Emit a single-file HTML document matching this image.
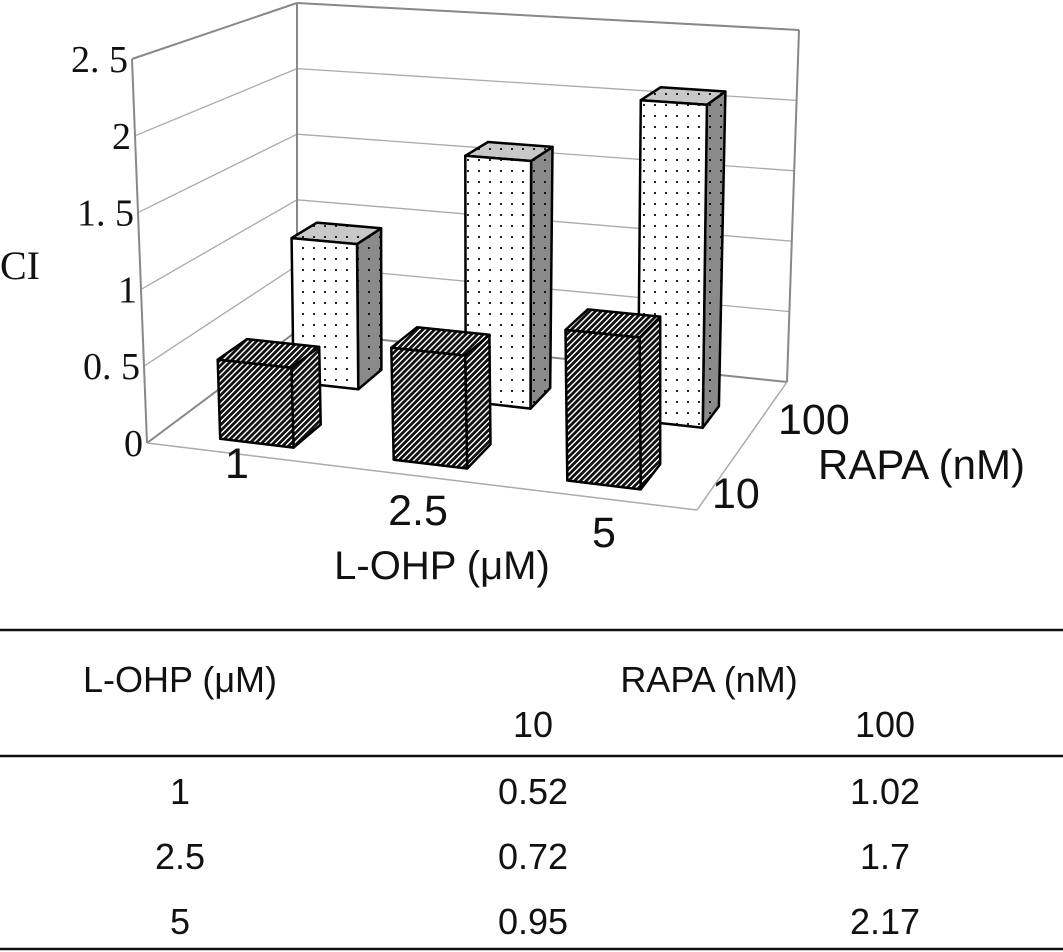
<!DOCTYPE html>
<html><head><meta charset="utf-8"><style>
html,body{margin:0;padding:0;background:#fff;}
body{width:1063px;height:952px;overflow:hidden;position:relative;font-family:"Liberation Sans",sans-serif;}
svg{position:absolute;left:0;top:0;}
</style></head><body>
<svg id="chart" width="1063" height="952" viewBox="0 0 1063 952">
<defs>
<pattern id="hatch" patternUnits="userSpaceOnUse" width="4.2" height="4.2" patternTransform="rotate(45)">
<rect width="4.2" height="4.2" fill="#111"/><rect x="0" y="0" width="1.4" height="4.2" fill="#fff"/>
</pattern>
<pattern id="dotsW" patternUnits="userSpaceOnUse" width="11" height="11">
<rect width="11" height="11" fill="#fff"/><rect x="5" y="5" width="2" height="2" fill="#222"/>
</pattern>
<pattern id="dotsG" patternUnits="userSpaceOnUse" width="11" height="11">
<rect width="11" height="11" fill="#8a8a8a"/><rect x="5" y="5" width="2" height="2" fill="#111"/>
</pattern>
<pattern id="dotsL" patternUnits="userSpaceOnUse" width="11" height="11">
<rect width="11" height="11" fill="#c8c8c8"/><rect x="5" y="5" width="2" height="2" fill="#222"/>
</pattern>
</defs>
<g id="walls"></g>
<g id="bars"></g>
<g id="labels" font-family="Liberation Sans, sans-serif" fill="#111">
<text x="0" y="279" font-family="Liberation Serif, serif" font-size="40">CI</text>
<text x="237" y="478" font-size="43" text-anchor="middle">1</text>
<text x="418" y="525" font-size="43" text-anchor="middle">2.5</text>
<text x="604" y="547" font-size="43" text-anchor="middle">5</text>
<text x="442" y="579" font-size="40" text-anchor="middle">L-OHP (μM)</text>
<text x="778" y="434" font-size="43">100</text>
<text x="712" y="508" font-size="43">10</text>
<text x="818" y="479" font-size="42">RAPA (nM)</text>
</g>
<g id="table" font-family="Liberation Sans, sans-serif" font-size="36" fill="#111" text-anchor="middle">
<line x1="0" y1="630" x2="1063" y2="630" stroke="#111" stroke-width="2.5"/>
<line x1="0" y1="756" x2="1063" y2="756" stroke="#111" stroke-width="2.5"/>
<line x1="0" y1="949" x2="1063" y2="949" stroke="#111" stroke-width="2.5"/>
<text x="180" y="692">L-OHP (μM)</text>
<text x="709" y="692">RAPA (nM)</text>
<text x="533" y="737">10</text>
<text x="885" y="737">100</text>
<text x="180" y="804">1</text>
<text x="533" y="804">0.52</text>
<text x="885" y="804">1.02</text>
<text x="180" y="869">2.5</text>
<text x="533" y="869">0.72</text>
<text x="885" y="869">1.7</text>
<text x="180" y="934">5</text>
<text x="533" y="934">0.95</text>
<text x="885" y="934">2.17</text>
</g>
</svg>
<script>
const categories = ["1", "2.5", "5"];
const seriesNames = ["10", "100"];
const rapa10 = [0.52, 0.72, 0.95];
const rapa100 = [1.02, 1.7, 2.17];
const yTicks = [0, 0.5, 1, 1.5, 2, 2.5];
const yTickLabels = ["0", "0. 5", "1", "1. 5", "2", "2. 5"];

const NS = "http://www.w3.org/2000/svg";
const VMAX = 2.5;
const FL=[147,443], FR=[697,510], BL=[297,331], BR=[787,382];
const HFL=[-15,-384], HFR=[-3,-408], HBL=[0,-328], HBR=[12,-352];
function bil(a,b,c,d,u,t){
  const f=[a[0]+(b[0]-a[0])*u, a[1]+(b[1]-a[1])*u];
  const k=[c[0]+(d[0]-c[0])*u, c[1]+(d[1]-c[1])*u];
  return [f[0]+(k[0]-f[0])*t, f[1]+(k[1]-f[1])*t];
}
function P(u,t,v){
  const f=bil(FL,FR,BL,BR,u,t), h=bil(HFL,HFR,HBL,HBR,u,t);
  const s=v/VMAX; return [f[0]+h[0]*s, f[1]+h[1]*s];
}
function pts(a){return a.map(p=>p[0].toFixed(1)+","+p[1].toFixed(1)).join(" ");}
function line(g,a,b,stroke,w,name){
  const l=document.createElementNS(NS,"line");
  l.setAttribute("x1",a[0]);l.setAttribute("y1",a[1]);l.setAttribute("x2",b[0]);l.setAttribute("y2",b[1]);
  l.setAttribute("stroke",stroke);l.setAttribute("stroke-width",w);
  
  
  g.appendChild(l);
}
const walls=document.getElementById("walls");
yTicks.forEach((v,i)=>{
  if(v>0 && v<VMAX){
    line(walls,P(0,0,v),P(0,1,v),"#aaa",1.3,"gridline-left-wall");
    line(walls,P(0,1,v),P(1,1,v),"#aaa",1.3,"gridline-back-wall");
  }
  const p=P(0,0,v);
  const t=document.createElementNS(NS,"text");
  t.setAttribute("x",p[0]-4);t.setAttribute("y",p[1]+13);
  t.setAttribute("text-anchor","end");t.setAttribute("font-family","Liberation Serif, serif");
  t.setAttribute("font-size","38");t.setAttribute("fill","#111");
  t.textContent=yTickLabels[i];
  
  
  walls.appendChild(t);
});
line(walls,P(0,0,0),P(0,0,VMAX),"#888",2,"left-wall-front-edge");
line(walls,P(0,0,VMAX),P(0,1,VMAX),"#888",2,"left-wall-top-edge");
line(walls,P(0,1,0),P(0,1,VMAX),"#888",2,"back-wall-left-edge");
line(walls,P(0,1,VMAX),P(1,1,VMAX),"#888",2,"back-wall-top-edge");
line(walls,P(1,1,0),P(1,1,VMAX),"#888",2,"back-wall-right-edge");
line(walls,P(0,1,0),P(1,1,0),"#888",2,"back-wall-bottom-edge");
line(walls,P(0,0,0),P(0,1,0),"#888",2,"left-wall-bottom-edge");
line(walls,P(0,0,0),P(1,0,0),"#aaa",1.5,"floor-front-edge");
line(walls,P(1,0,0),P(1,1,0),"#aaa",1.5,"floor-right-edge");

const bars=document.getElementById("bars");
function poly(g,p,fill,name){
  const e=document.createElementNS(NS,"polygon");
  e.setAttribute("points",pts(p));e.setAttribute("fill",fill);
  e.setAttribute("stroke","#000");e.setAttribute("stroke-width","2.5");e.setAttribute("stroke-linejoin","round");
  
  
  g.appendChild(e);
}
function box(u0,u1,t0,t1,v,front,side,top,name){
  const g=document.createElementNS(NS,"g");
  
  
  poly(g,[P(u1,t0,0),P(u1,t1,0),P(u1,t1,v),P(u1,t0,v)],side,"bar-side");
  poly(g,[P(u0,t0,v),P(u1,t0,v),P(u1,t1,v),P(u0,t1,v)],top,"bar-top");
  poly(g,[P(u0,t0,0),P(u1,t0,0),P(u1,t0,v),P(u0,t0,v)],front,"bar-front");
  bars.appendChild(g);
}
rapa100.forEach((v,i)=>{
  const u0=0.11+0.335*i;
  box(u0,u0+0.126,0.6,0.77,v,"url(#dotsW)","url(#dotsG)","url(#dotsL)","bar-rapa100-lohp-"+categories[i]);
});
rapa10.forEach((v,i)=>{
  const u0=0.107+0.319*i;
  box(u0,u0+0.135,0.1,0.3,v,"url(#hatch)","url(#hatch)","url(#hatch)","bar-rapa10-lohp-"+categories[i]);
});
</script>
</body></html>
